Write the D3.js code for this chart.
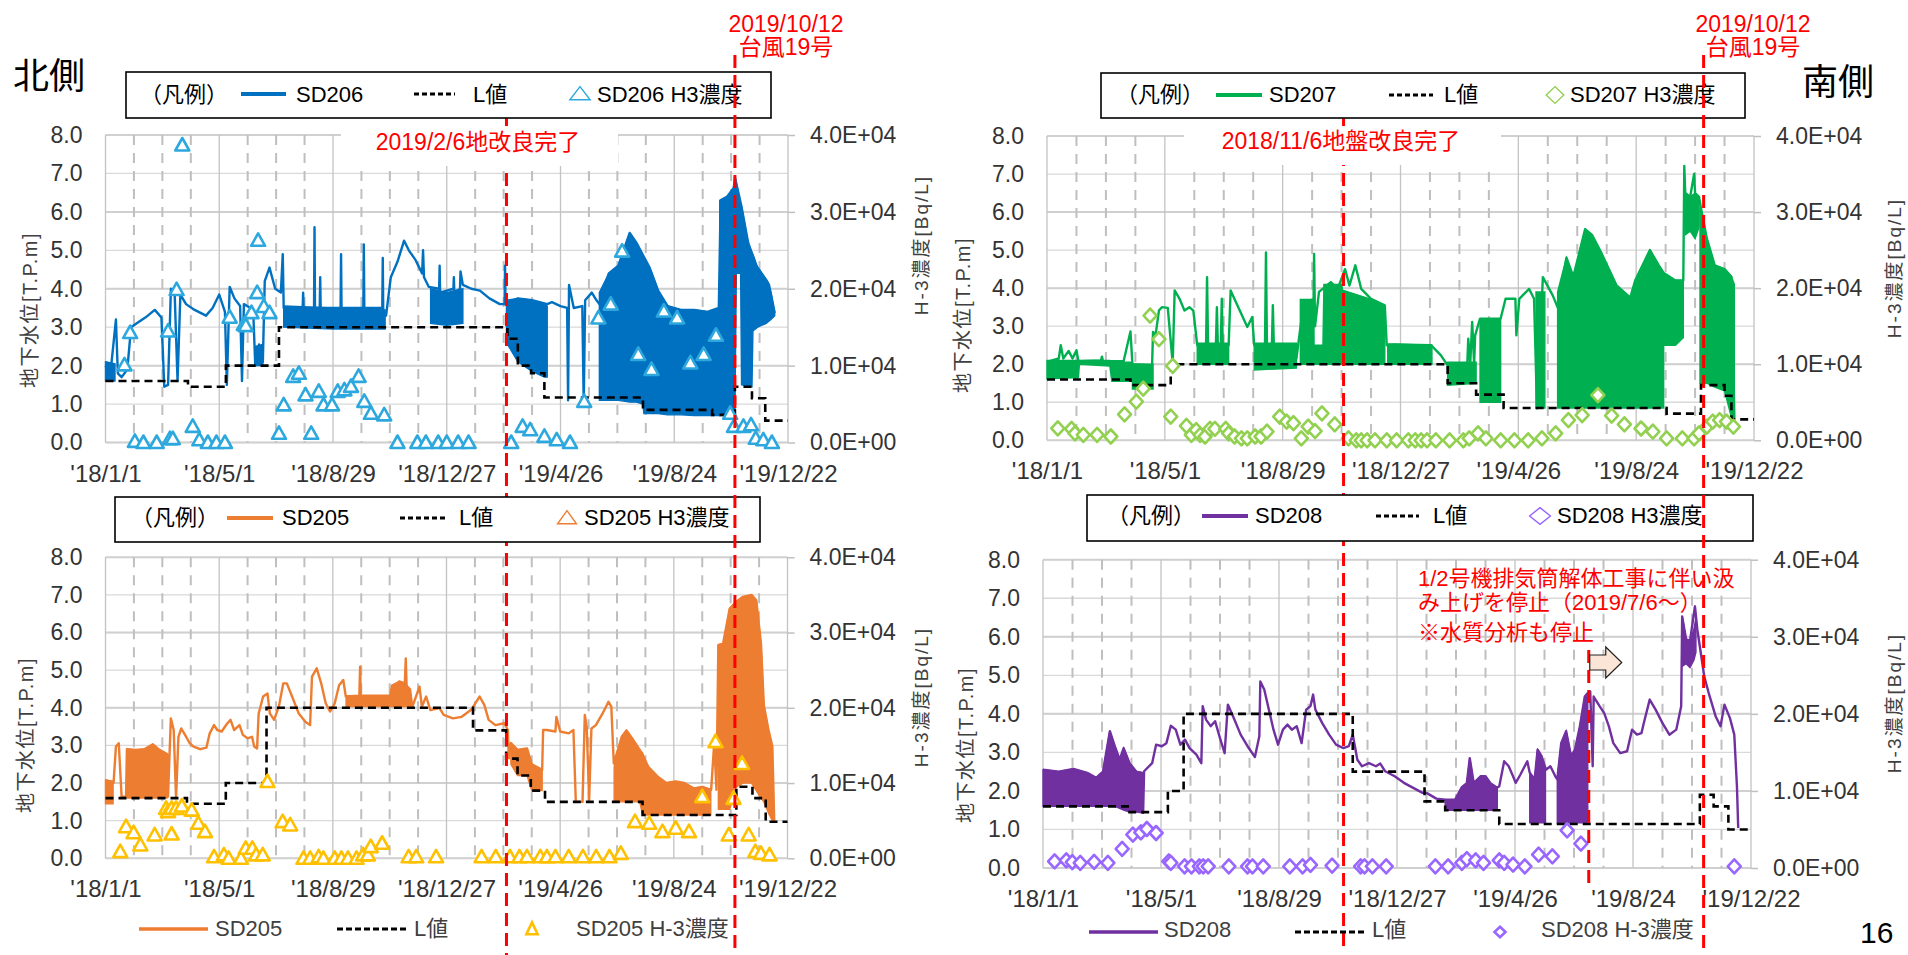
<!DOCTYPE html>
<html><head><meta charset="utf-8">
<script src="https://cdn.jsdelivr.net/npm/d3@7"></script>
<style>
body{margin:0;background:#fff;}
svg{display:block;}
text{font-family:"Liberation Sans",Arial,"Noto Sans CJK JP",sans-serif;}
</style></head><body>
<svg id="c" width="1908" height="955"></svg>
<script>
// ---------- axis data ----------
const xTickDays = [0,120,240,360,480,600,720];            // days since 2018/1/1
const xTickLabels = ["'18/1/1","'18/5/1","'18/8/29","'18/12/27","'19/4/26","'19/8/24","'19/12/22"];
const yTicks = [0,1,2,3,4,5,6,7,8];
const y2Ticks = [0,10000,20000,30000,40000];

// ---------- SD206 (north, upper) ----------
const sd206Line = [[0,2.0],[5,1.75],[11,3.2],[13,1.8],[17,1.7],[23,1.9],[27,3.0],[33,3.1],[42,3.25],[52,3.45],[59,3.25],[62,1.45],[66,1.5],[69,4.0],[73,3.85],[76,1.6],[79,3.85],[85,3.6],[94,3.45],[106,3.3],[113,3.5],[120,3.85],[126,3.4],[128,1.5],[131,4.05],[136,3.75],[142,3.55],[144,1.6],[146,3.6],[153,3.5],[156,3.3],[158,2.0],[162,2.55],[166,2.1],[168,4.2],[173,4.55],[179,4.0],[185,3.9],[187,4.9],[188,3.5],[208,3.5],[208.5,3.9],[209,3.5],[220,3.5],[220.5,5.6],[221,3.5],[226,3.5],[226.5,4.3],[227,3.5],[248,3.5],[248.5,4.9],[249,3.5],[272,3.5],[272.5,5.15],[273,3.5],[292,3.5],[292.5,4.8],[293,3.4],[296,3.3],[301,4.3],[308,4.7],[315,5.25],[320,5.0],[327,4.75],[334,4.4],[335,5.0],[336,4.3],[341,4.05],[352,4.0],[352.5,4.6],[353,3.9],[367,4.0],[367.5,4.3],[368,3.9],[374,4.0],[374.5,4.45],[377,4.1],[386,4.0],[395,3.95],[405,3.75],[416,3.6],[421,3.6],[421.5,4.6],[422,3.6],[435,3.75],[450,3.7],[466,3.6],[471,3.65],[480,3.55],[487,3.5],[488,1.1],[489,4.1],[494,3.5],[503,3.55],[504.5,1.0],[506,3.7],[513,3.9],[518,3.7],[521,3.6],[531,4.4],[541,4.6],[553,5.45],[560,5.2],[574,4.55],[583,3.95],[593,3.55],[607,3.45],[621,3.45],[635,3.4],[647,3.5],[649,6.3],[656,6.4],[662,6.6],[663,0.6],[664,6.9],[671,6.13],[678,5.19],[686,4.62],[697,4.23],[700,4.1],[706,3.37]];
const sd206Bands = [
 [[0,1.6,2.1],[10,1.6,2.05]],
 [[158,2.0,2.5],[166,2.0,2.55]],
 [[188,3.0,3.55],[240,2.95,3.5],[295,2.95,3.45]],
 [[343,3.1,4.0],[360,3.05,3.9],[377,3.1,4.0]],
 [[423,2.6,3.7],[435,2.1,3.75],[450,1.85,3.7],[463,1.7,3.6],[466,1.7,3.55]],
 [[521,1.1,3.9],[531,1.1,4.4],[541,1.1,4.6],[553,1.05,5.45],[560,1.05,5.2],[567,1.0,4.8],[568,0.75,4.75],[574,0.75,4.55],[583,0.75,3.95],[593,0.72,3.55],[607,0.72,3.45],[621,0.7,3.45],[635,0.7,3.4],[648,0.7,3.5]],
 [[648,0.7,6.3],[656,0.7,6.4],[662,0.7,6.6],[664,0.7,6.9],[665.5,4.4,6.75],[670,4.4,6.2],[671,1.5,6.13],[678,1.45,5.19],[682,1.45,4.95],[683,2.9,4.9],[688,3.0,4.55],[697,3.1,4.23],[702,3.2,3.9],[706,3.3,3.37]]
];
const sd206L = [[0,1.6],[87,1.45],[127,2.0],[183,3.0],[424,2.7],[435,2.0],[449,1.8],[463,1.17],[567,0.85],[640,0.72],[664,1.45],[682,1.15],[696,0.57],[720,0.57]];
const sd206H3 = [[20,10100],[26,14300],[31,150],[40,0],[54,0],[66,14500],[68,500],[71,500],[75,19900],[81,38700],[92,2100],[99,350],[108,0],[117,0],[126,0],[131,16300],[146,15350],[148,15200],[154,16900],[160,19500],[161,26300],[167,17700],[173,16900],[183,1200],[188,4900],[198,8600],[204,9000],[211,6200],[217,1200],[225,6650],[230,4900],[239,4900],[245,6650],[252,6850],[259,7300],[267,8600],[273,5350],[280,3800],[294,3600],[308,0],[329,0],[338,0],[351,0],[360,0],[372,0],[383,0],[428,0],[440,2100],[448,1650],[463,800],[476,350],[490,0],[505,5350],[520,16200],[533,18000],[545,24900],[562,11450],[576,9500],[589,17100],[603,16200],[617,10350],[631,11450],[644,13950],[659,3800],[663,2100],[673,2100],[681,2300],[686,550],[694,350],[703,0]];

// ---------- SD207 (south, upper) ----------
const sd207Line = [[0,2.06],[12,2.15],[14,2.5],[16.6,2.15],[22,2.35],[26,2.15],[30,2.37],[32,2.08],[55,2.1],[56,2.2],[57,2.08],[78,2.08],[85,2.86],[87,2.0],[107,1.97],[108,2.85],[110.5,2.76],[114,3.41],[117,3.5],[123,3.48],[128,2.02],[130,3.94],[135,3.72],[140,3.41],[145,3.5],[149,3.41],[153,2.5],[162,2.5],[163,4.29],[164,2.5],[172,2.5],[173,3.5],[174,2.5],[177,2.5],[178,3.72],[179,2.5],[185,2.5],[187,3.94],[197,3.37],[204,2.98],[209,3.24],[211,2.5],[222,2.5],[223,4.94],[224,2.5],[229,2.5],[230,3.55],[231,2.5],[254,2.15],[261,3.55],[266,2.58],[271,2.6],[272,4.9],[273,3.0],[277,3.9],[289,4.16],[296,3.98],[303.5,4.5],[308,4.07],[314,4.6],[320,3.98],[330,3.72],[344,3.55],[346,2.5],[353,2.52],[391,2.5],[401,2.24],[408,1.97],[428,2.0],[429,2.67],[431,2.0],[433,3.11],[435,2.0],[436,2.76],[441,3.2],[462,3.2],[467,3.72],[477,3.72],[478,2.76],[481,3.72],[491,3.98],[496,3.72],[499,0.84],[505,4.29],[515,3.81],[520,3.5],[529,4.8],[536,4.3],[548,5.55],[555,5.4],[565,4.9],[580,4.07],[594,3.75],[599,4.2],[614,5.0],[623,4.6],[628,4.4],[640,4.2],[648,4.2],[649,7.21],[650,6.5],[655,6.4],[659,7.0],[660,6.5],[664,6.4],[666,6.1],[672,5.3],[680,4.6],[690,4.5],[697,4.3],[700,0.55]];
const sd207Bands = [
 [[0,1.62,2.1],[32,1.65,2.1],[33,2.0,2.1],[64,1.95,2.1],[66,1.55,2.05],[86,1.55,2.05]],
 [[87,1.35,2.0],[108,1.35,2.0]],
 [[153,2.0,2.55],[185,2.0,2.55]],
 [[211,1.85,2.55],[254,1.9,2.55]],
 [[258,2.0,3.7],[271,2.0,3.7],[272,2.0,2.5],[281,2.0,2.5],[282,2.0,4.1],[300,2.0,4.1],[301,2.0,3.95],[331,2.0,3.7],[344,2.0,3.5]],
 [[347,2.0,2.53],[392,2.0,2.5]],
 [[408,1.45,2.05],[437,1.5,2.05]],
 [[441,1.0,3.2],[462,1.0,3.2]],
 [[498,0.85,3.9],[507,0.85,3.9]],
 [[520,0.85,3.9],[529,0.85,4.8],[536,0.85,4.3],[548,0.85,5.55],[555,0.85,5.4],[565,0.85,4.9],[580,0.85,4.07],[594,0.85,3.75],[599,0.85,4.2],[614,0.85,5.0],[623,0.85,4.6],[628,0.85,4.4]],
 [[628,2.5,4.4],[640,2.5,4.2],[648,2.7,4.2]],
 [[650,5.4,6.5],[655,5.5,6.4],[660,5.3,6.5],[664,5.6,6.4]],
 [[665,1.5,6.1],[672,1.5,5.3],[680,1.4,4.6],[690,1.3,4.5],[697,0.6,4.3],[700,0.55,4.1]]
];
const sd207L = [[0,1.6],[85,1.45],[126,2.0],[408,1.5],[437,1.2],[465,0.85],[631,0.7],[666,1.45],[690,1.17],[697,0.55],[720,0.55]];
const sd207H3 = [[11,1570],[25,1500],[28.5,900],[37,700],[51,700],[65,500],[79,3400],[91,5070],[98,6800],[105,16400],[114,13300],[126,3100],[128,9780],[142,1900],[147,700],[152,1350],[156,700],[161,500],[166,1500],[171,1500],[182,1500],[185,900],[191,500],[198,250],[204,250],[212,500],[218,500],[224,1150],[237,3100],[244,2450],[251,2250],[259,250],[266,1800],[273,1200],[280,3540],[293,2100],[307,250],[315,0],[320,0],[326,0],[334,0],[346,0],[356,0],[368,0],[375,0],[381,0],[387,0],[396,0],[410,0],[424,0],[430,250],[439,900],[447,250],[462,0],[476,0],[490,0],[504,250],[518,900],[531,2650],[545,3300],[561,5940],[575,3250],[588,2100],[605,1550],[617,1150],[631,250],[647,250],[659,250],[664,900],[672,1800],[678,2450],[685,2650],[692,2450],[699,1800]];

// ---------- SD205 (north, lower) ----------
const sd205Line = [[0,2.08],[8.5,2.0],[11,2.97],[14,3.06],[17,1.64],[21.7,1.64],[22.6,2.9],[32,2.88],[41,2.9],[50,3.03],[56,2.9],[65,2.77],[66,1.64],[69,3.72],[72,3.41],[74.5,1.6],[77,3.23],[80,3.45],[84,3.28],[88.6,3.07],[93,2.97],[100,2.9],[106.5,2.94],[110,3.32],[114.6,3.54],[118,3.41],[122.6,3.37],[128.7,3.59],[132,3.68],[135.8,3.41],[141.5,3.54],[145,3.28],[150,3.19],[154.7,3.23],[157,2.97],[160,2.92],[161.7,3.85],[166.4,4.3],[171,4.38],[173.5,3.85],[178,3.68],[183,4.03],[187.7,4.65],[191.4,4.65],[197,4.3],[204,3.85],[211,3.63],[216,3.54],[218,4.83],[223,5.05],[227.7,4.65],[232.5,4.12],[237,3.9],[242,4.12],[246.6,4.6],[251,4.74],[253.7,4.3],[268,4.32],[268.8,5.09],[269.5,4.32],[300,4.32],[310,4.7],[316,4.65],[317,5.31],[318,4.5],[324,4.03],[331.5,4.56],[334,4.03],[338.5,4.3],[343,3.94],[352.7,3.99],[357,3.81],[366.8,3.72],[376,3.76],[385.7,3.94],[390.4,4.12],[395,4.3],[400,4.07],[404.5,3.68],[411.6,3.54],[421,3.59],[424.8,3.41],[425.8,2.66],[428,3.06],[435,2.88],[445,2.92],[450,2.5],[461,2.35],[462,3.41],[466,3.41],[475,3.37],[476,3.76],[480,3.37],[489,3.32],[494,3.41],[496.5,1.5],[503.6,1.5],[506,3.81],[508,3.5],[510.6,1.55],[513,3.45],[517.7,3.54],[524.8,3.85],[531,4.16],[534,4.03],[536.6,2.52],[545,3.23],[550,3.4],[557,3.15],[564,2.88],[573,2.43],[583,2.17],[592,2.0],[602,2.04],[611,2.0],[621,1.86],[630,1.9],[639.4,1.82],[642.6,3.06],[645,1.82],[647,5.67],[652,5.7],[659,6.64],[666,6.82],[673,6.95],[682,7.0],[687,6.86],[692,5.7],[695,4.07],[700,3.4],[704,2.97],[706,0.97]];
const sd205Bands = [
 [[0,1.45,2.08],[8,1.45,2.05]],
 [[23,1.6,2.9],[32,1.6,2.88],[41,1.6,2.9],[50,1.6,3.03],[56,1.6,2.9],[65,1.6,2.77]],
 [[254,4.03,4.32],[300,4.03,4.32],[302,4.03,4.6],[310,4.03,4.7],[316,4.03,4.65],[322,4.03,4.5],[324,4.03,4.1]],
 [[428,2.5,3.06],[435,2.2,2.88],[445,2.2,2.92],[450,1.8,2.5],[461,1.8,2.35]],
 [[537,1.5,2.43],[545,1.5,3.23],[550,1.5,3.4],[557,1.5,3.15],[564,1.5,2.88],[567,1.15,2.8],[573,1.15,2.43],[583,1.15,2.17],[592,1.15,2.0],[602,1.15,2.04],[611,1.15,2.0],[621,1.15,1.86],[630,1.15,1.9],[639,1.15,1.82]],
 [[647,1.3,5.67],[652,1.3,5.7],[659,1.3,6.64],[666,1.9,6.82],[673,2.0,6.95],[682,2.0,7.0],[687,1.8,6.86],[692,1.6,5.7],[695,1.5,4.07],[700,1.2,3.4],[704,1.0,2.97]]
];
const sd205L = [[0,1.6],[86,1.45],[127,2.0],[170,4.0],[388,3.4],[423,2.65],[435,2.2],[449,1.8],[464,1.5],[567,1.15],[666,1.9],[683,1.6],[697,0.97],[720,0.97]];
const sd205H3 = [[15.6,890],[21.7,4200],[29.7,3400],[36.8,1770],[51.9,3100],[64,6640],[66,6200],[69.8,6640],[69.8,3230],[74.5,6640],[80.6,6950],[91,6400],[98,4650],[105,3540],[114.6,200],[125,450],[130,0],[143,0],[148,1330],[155,1330],[159,450],[166,450],[171,10200],[187,4870],[195,4430],[209,0],[216,0],[225,200],[230,0],[242,0],[249,0],[256,0],[265,0],[272,450],[277,450],[280,1550],[292,2000],[320,200],[328,200],[349,200],[397,200],[412,200],[427,200],[437,200],[445,200],[459,200],[466,200],[475,200],[489,200],[504,200],[518,200],[532,200],[544,650],[559,4870],[574,4650],[588,3540],[602,4000],[616,3540],[630,8200],[644,15500],[658,3100],[663,7970],[672,12600],[679,3100],[686,900],[692,650],[701,450]];

// ---------- SD208 (south, lower) ----------
const sd208Line = [[0,2.55],[16,2.5],[31,2.57],[45,2.47],[54,2.34],[61,2.5],[68,3.55],[73,3.16],[78,2.81],[82,3.11],[88,2.72],[95,2.5],[101,2.47],[101.8,1.43],[102.8,2.51],[111,2.72],[115,3.2],[120.8,3.16],[125.5,3.24],[130,3.69],[135,3.59],[139.7,3.2],[144.4,3.33],[149,3.11],[156,2.94],[161,2.72],[162.4,4.2],[165.8,3.85],[170.5,3.68],[175,3.81],[180,3.37],[184.7,2.98],[188,4.24],[194,3.89],[201,3.46],[208,3.16],[215.5,2.88],[220,3.42],[221,4.84],[225,4.63],[229.7,4.11],[234.4,3.59],[239,3.2],[244,3.59],[248.6,3.72],[253,3.59],[258,3.68],[263,3.24],[267.6,4.11],[272,4.2],[274.7,4.5],[277,4.11],[284,3.76],[291,3.46],[298,3.2],[305.5,3.11],[311,3.16],[315,3.46],[319.7,2.81],[324.4,2.64],[331.5,2.72],[338.6,2.64],[343,2.71],[348,2.51],[357.6,2.38],[367,2.21],[376.5,2.08],[386,1.95],[390,1.95],[400,1.8],[409,1.77],[419,1.77],[426,2.1],[431,2.2],[434,2.85],[438,2.2],[445,2.38],[450,2.38],[455,2.2],[461.8,2.08],[464,2.12],[469,2.77],[473.6,2.64],[478,2.38],[480.7,2.21],[485.4,2.42],[492.5,2.77],[495,2.47],[500,2.3],[503,3.07],[507,2.9],[511.5,2.55],[516,2.64],[521,2.38],[523,2.3],[527,3.24],[532,3.55],[537,2.9],[541,3.07],[546,3.68],[551,4.45],[554,4.54],[556.5,4.58],[559,2.64],[560,4.45],[566,4.2],[570.7,4.02],[575.4,3.68],[580,3.24],[587,2.98],[594,3.03],[599,3.59],[604,3.46],[608.6,3.5],[611,3.76],[617,4.37],[623,4.11],[630,3.76],[637,3.46],[644,3.59],[649,4.2],[650,6.53],[654,5.93],[658,5.9],[663,6.79],[665.4,6.19],[672.5,4.97],[677,4.54],[684,3.94],[689,3.68],[693,4.24],[698.6,3.89],[703,3.46],[705.7,2.12],[707,1.04]];
const sd208Bands = [
 [[0,1.6,2.55],[16,1.6,2.5],[31,1.6,2.57],[45,1.6,2.47],[54,1.6,2.34],[61,1.6,2.5],[68,1.6,3.55],[73,1.6,3.16],[78,1.55,2.81],[82,1.5,3.11],[88,1.45,2.72],[95,1.45,2.5],[101,1.43,2.47]],
 [[409,1.5,1.77],[419,1.5,1.77],[426,1.5,2.1],[431,1.5,2.2],[434,1.5,2.85],[438,1.5,2.2],[445,1.5,2.38],[450,1.5,2.38],[455,1.5,2.2],[462,1.5,2.08]],
 [[495,1.17,2.47],[500,1.17,2.3],[503,1.17,3.07],[507,1.17,2.9],[511,1.17,2.55]],
 [[523,1.17,2.3],[527,1.17,3.24],[532,1.17,3.55],[537,1.17,2.9],[541,1.17,3.07],[546,1.17,3.68],[551,1.17,4.45],[554,1.17,4.54]],
 [[650,5.23,6.53],[654,5.3,5.93],[658,5.2,5.9],[662,5.4,6.2],[664,5.6,6.5]]
];
const sd208L = [[0,1.6],[88,1.45],[127,2.0],[143,4.0],[315,2.5],[388,1.73],[409,1.5],[464,1.14],[668,1.9],[682,1.6],[697,1.0],[720,1.0]];
const sd208H3 = [[11.8,865],[23.7,1000],[29.8,750],[37.9,650],[52,800],[66,650],[80.5,2470],[91.4,4330],[99.5,4630],[105.6,5060],[115,4540],[128,850],[130,650],[144,200],[151,200],[159,200],[163,200],[168,200],[189,200],[208,200],[213,200],[224,200],[251,200],[264,200],[272,400],[294,300],[323,200],[327,200],[335,200],[349,200],[399,200],[412,200],[426,650],[431,1150],[440,1000],[448,650],[464,1000],[469,650],[478,450],[490,200],[504,1730],[518,1510],[533,4890],[547,3160],[703,200]];

// event lines: axis day where each overlay line is drawn in the picture
const northEvents = {improve:423, typhoon:664};
const southEvents = {improve:302, typhoon:668.7, pumpStop:555};

// ---------- drawing ----------
const svg = d3.select('#c');
svg.append('rect').attr('width',1908).attr('height',955).attr('fill','#fff');
const TRI = 'M0,-7L7,5.5L-7,5.5Z';
const DIA = 'M0,-7L6.5,0L0,7L-6.5,0Z';
const fmt2 = d => d===0 ? '0.0E+00' : (d/10000).toFixed(1)+'E+04';

function drawPanel(c){
  const g = svg.append('g');
  const x = d3.scaleLinear().domain([0,720]).range([c.x0,c.x1]);
  const y = d3.scaleLinear().domain([0,8]).range([c.yb,c.yt]);
  const y2 = d3.scaleLinear().domain([0,40000]).range([c.yb,c.yt]);
  g.selectAll(null).data(yTicks).join('line')
    .attr('x1',c.x0).attr('x2',c.x1).attr('y1',d=>y(d)).attr('y2',d=>y(d))
    .attr('stroke','#d9d9d9').attr('stroke-width',1.3);
  g.selectAll(null).data(y2Ticks).join('line')
    .attr('x1',c.x0).attr('x2',c.x1).attr('y1',d=>y2(d)).attr('y2',d=>y2(d))
    .attr('stroke','#d0d0d0').attr('stroke-width',2);
  const minor = d3.range(0,721,30).filter(d=>d%120!==0);
  g.selectAll(null).data(minor).join('line')
    .attr('x1',d=>x(d)).attr('x2',d=>x(d)).attr('y1',c.yt).attr('y2',c.yb)
    .attr('stroke','#bfbfbf').attr('stroke-width',2).attr('stroke-dasharray','10,8');
  g.selectAll(null).data(xTickDays).join('line')
    .attr('x1',d=>x(d)).attr('x2',d=>x(d)).attr('y1',c.yt).attr('y2',c.yb)
    .attr('stroke','#c3c3c3').attr('stroke-width',1.3);
  const ax = g.append('g').attr('transform',`translate(${c.x0},0)`)
    .call(d3.axisLeft(y).tickValues(yTicks).tickSize(0).tickPadding(23).tickFormat(d3.format('.1f')));
  const ar = g.append('g').attr('transform',`translate(${c.x1},0)`)
    .call(d3.axisRight(y2).tickValues(y2Ticks).tickSize(7).tickPadding(15).tickFormat(fmt2));
  const ab = g.append('g').attr('transform',`translate(0,${c.yb})`)
    .call(d3.axisBottom(x).tickValues(xTickDays).tickSize(0).tickFormat((d,i)=>xTickLabels[i]));
  [ax,ar,ab].forEach(a=>{a.select('.domain').remove();
    a.selectAll('text').attr('fill','#333').style('font-size','23px').style('font-family','"Liberation Sans",Arial,sans-serif');});
  ar.selectAll('line').attr('stroke','#bfbfbf').attr('stroke-width',1.5);
  ab.selectAll('text').attr('y',39).attr('dy',0).style('font-size','24px');
  g.append('text').attr('transform',`translate(${c.lt[0]},${c.lt[1]}) rotate(-90)`)
    .attr('text-anchor','middle').attr('dy','0.35em').attr('fill','#404040')
    .style('font-size','20px').style('letter-spacing','1.5px').text('地下水位[T.P.m]');
  g.append('text').attr('transform',`translate(${c.rt[0]},${c.rt[1]}) rotate(-90)`)
    .attr('text-anchor','middle').attr('dy','0.35em').attr('fill','#404040')
    .style('font-size','19px').style('letter-spacing','2px').text('H-3濃度[Bq/L]');
  const area = d3.area().x(d=>x(d[0])).y0(d=>y(d[1])).y1(d=>y(d[2]));
  g.selectAll(null).data(c.bands).join('path').attr('d',area)
    .attr('fill',c.color).attr('stroke',c.color).attr('stroke-width',1.4);
  g.append('path').datum(c.line).attr('d',d3.line().x(d=>x(d[0])).y(d=>y(d[1])))
    .attr('fill','none').attr('stroke',c.color).attr('stroke-width',2.4).attr('stroke-linejoin','round');
  g.append('path').datum(c.L).attr('d',d3.line().curve(d3.curveStepAfter).x(d=>x(d[0])).y(d=>y(d[1])))
    .attr('fill','none').attr('stroke','#000').attr('stroke-width',2.6).attr('stroke-dasharray','8,5');
  g.selectAll(null).data(c.h3).join('path').attr('d',c.mk)
    .attr('transform',d=>`translate(${x(d[0])},${y2(d[1])})`)
    .attr('fill','#fff').attr('stroke',c.mkColor).attr('stroke-width',2.6).attr('stroke-linejoin','round');
  return {x,y};
}

const TL = drawPanel({x0:105.5,x1:788,yt:135,yb:442.5,color:'#0070C0',mk:TRI,mkColor:'#2DA8DE',
  line:sd206Line,bands:sd206Bands,L:sd206L,h3:sd206H3,lt:[30,310],rt:[921,245]});
const TR = drawPanel({x0:1047,x1:1754,yt:136,yb:440.3,color:'#00B050',mk:DIA,mkColor:'#92D050',
  line:sd207Line,bands:sd207Bands,L:sd207L,h3:sd207H3,lt:[963,315],rt:[1894,268]});
const BL = drawPanel({x0:105.5,x1:787.5,yt:557.3,yb:858.3,color:'#ED7D31',mk:TRI,mkColor:'#FFC000',
  line:sd205Line,bands:sd205Bands,L:sd205L,h3:sd205H3,lt:[26,735],rt:[921,697]});
const BR = drawPanel({x0:1043,x1:1751,yt:559.7,yb:868,color:'#7030A0',mk:DIA,mkColor:'#9966FF',
  line:sd208Line,bands:sd208Bands,L:sd208L,h3:sd208H3,lt:[966,745],rt:[1894,703]});

const RED = '#FF0000';
function redLine(xp,y1,y2){
  svg.append('line').attr('x1',xp).attr('x2',xp).attr('y1',y1).attr('y2',y2)
    .attr('stroke',RED).attr('stroke-width',3).attr('stroke-dasharray','13,7');
}
redLine(TL.x(northEvents.improve),113,955);
redLine(TR.x(southEvents.improve),113,952);
redLine(BR.x(southEvents.pumpStop),650,890);

svg.append('rect').attr('x',341).attr('y',126).attr('width',277).attr('height',40).attr('fill','#fff');
svg.append('rect').attr('x',1184).attr('y',126).attr('width',317).attr('height',39).attr('fill','#fff');
function txt(x,y,s,size,fill,anchor){
  return svg.append('text').attr('x',x).attr('y',y).attr('fill',fill||'#000')
    .attr('text-anchor',anchor||'start').style('font-size',size+'px').text(s);
}
txt(478,150,'2019/2/6地改良完了',23,RED,'middle');
txt(1341,149,'2018/11/6地盤改良完了',23,RED,'middle');

function legendBox(x,y,w,h){
  svg.append('rect').attr('x',x).attr('y',y).attr('width',w).attr('height',h)
    .attr('fill','#fff').attr('stroke','#000').attr('stroke-width',1.6);
}
function legLine(x1,x2,y,color,dash,w){
  svg.append('line').attr('x1',x1).attr('x2',x2).attr('y1',y).attr('y2',y)
    .attr('stroke',color).attr('stroke-width',w).attr('stroke-dasharray',dash||null);
}
function legMark(path,x,y,color,sx,sy,sw){
  svg.append('path').attr('d',path).attr('transform',`translate(${x},${y}) scale(${sx},${sy})`)
    .attr('fill','#fff').attr('stroke',color).attr('stroke-width',sw).attr('vector-effect','non-scaling-stroke');
}
const legends = [
  {box:[126,72,645,46],ly:94,ty:102,p:[140,241,286,296,414,455,473,580,597],color:'#0070C0',mk:TRI,mc:'#2DA8DE',sx:1.45,sy:1.05,name:'SD206'},
  {box:[1101,73,644,45],ly:95,ty:102,p:[1116,1216,1262,1269,1389,1433,1444,1555,1570],color:'#00B050',mk:DIA,mc:'#92D050',sx:1.35,sy:1.2,name:'SD207'},
  {box:[115,497,645,45],ly:518,ty:525,p:[131,227,273,282,400,446,459,567,584],color:'#ED7D31',mk:TRI,mc:'#ED7D31',sx:1.35,sy:1.05,name:'SD205'},
  {box:[1087,495,666,46],ly:516,ty:523,p:[1107,1202,1248,1255,1376,1419,1433,1540,1557],color:'#7030A0',mk:DIA,mc:'#9966FF',sx:1.6,sy:1.2,name:'SD208'}
];
legends.forEach(L=>{
  legendBox(...L.box);
  const p=L.p;
  txt(p[0],L.ty,'（凡例）',22,'#000');
  legLine(p[1],p[2],L.ly,L.color,null,4);
  txt(p[3],L.ty,L.name,22,'#000');
  legLine(p[4],p[5],L.ly,'#000','5,3',3);
  txt(p[6],L.ty,'L値',22,'#000');
  legMark(L.mk,p[7],L.ly,L.mc,L.sx,L.sy,1.4);
  txt(p[8],L.ty,L.name+' H3濃度',22,'#000');
});
const bottomLegends = [
  {ly:929,ty:936,p:[139,208,215,337,408,414,532,576],color:'#ED7D31',mk:TRI,mc:'#FFC000',name:'SD205',sx:0.8,sy:0.95},
  {ly:932,ty:937,p:[1089,1158,1164,1295,1364,1372,1500,1541],color:'#7030A0',mk:DIA,mc:'#9966FF',name:'SD208',sx:0.85,sy:0.75}
];
bottomLegends.forEach(L=>{
  const p=L.p;
  legLine(p[0],p[1],L.ly,L.color,null,3.5);
  txt(p[2],L.ty,L.name,22,'#404040');
  legLine(p[3],p[4],L.ly,'#000','6,3',3);
  txt(p[5],L.ty,'L値',22,'#404040');
  legMark(L.mk,p[6],L.ly,L.mc,L.sx,L.sy,2.6);
  txt(p[7],L.ty,L.name+' H-3濃度',22,'#404040');
});

redLine(TL.x(northEvents.typhoon),55,955);
redLine(TR.x(southEvents.typhoon),55,952);
txt(786,32,'2019/10/12',23,RED,'middle');
txt(786,55,'台風19号',23,RED,'middle');
txt(1753,32,'2019/10/12',23,RED,'middle');
txt(1753,55,'台風19号',23,RED,'middle');

txt(1418,586,'1/2号機排気筒解体工事に伴い汲',22,RED);
txt(1418,610,'み上げを停止（2019/7/6～）',22,RED);
txt(1418,640,'※水質分析も停止',22,RED);
const ax0 = BR.x(southEvents.pumpStop)+1;
svg.append('path')
  .attr('d',`M${ax0},655 L${ax0+16},655 L${ax0+16},647 L${ax0+32},662.5 L${ax0+16},678 L${ax0+16},670 L${ax0},670 Z`)
  .attr('fill','#FBE5D6').attr('stroke','#222').attr('stroke-width',1.2);

txt(13,89,'北側',36,'#000');
txt(1802,95,'南側',36,'#000');
txt(1860,943,'16',30,'#000');
</script>
</body></html>
